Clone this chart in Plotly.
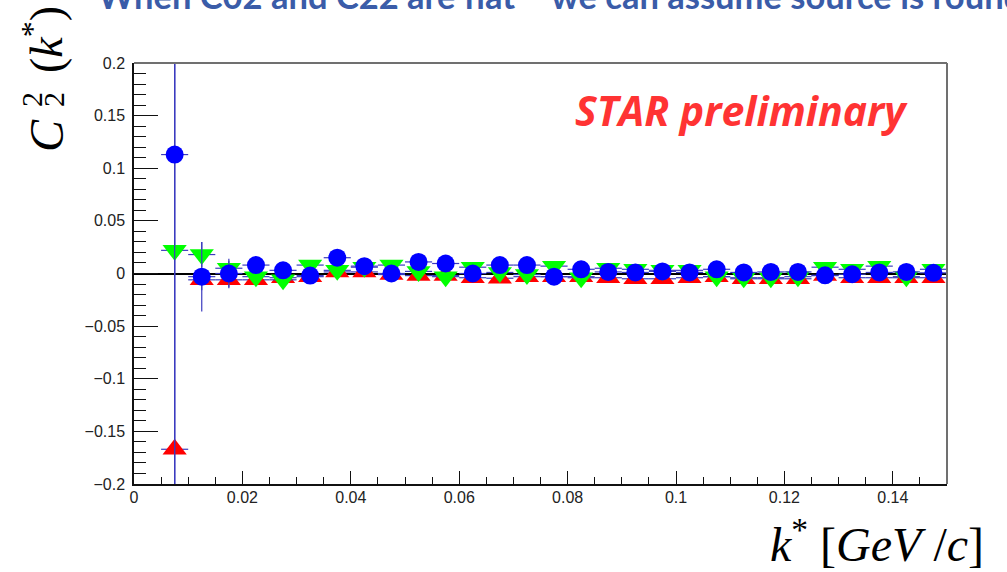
import plotly.graph_objects as go

# k* bin centres [GeV/c]
k_star = [0.0075, 0.0125, 0.0175, 0.0225, 0.0275, 0.0325, 0.0375, 0.0425, 0.0475, 0.0525,
          0.0575, 0.0625, 0.0675, 0.0725, 0.0775, 0.0825, 0.0875, 0.0925, 0.0975, 0.1025,
          0.1075, 0.1125, 0.1175, 0.1225, 0.1275, 0.1325, 0.1375, 0.1425, 0.1475]
k_halfwidth = 0.0025

# C_2^2(k*) for the three pair samples
c22_red = [-0.167, -0.006, -0.006, -0.006, -0.004, -0.003, 0.0015, 0.0015, -0.001, -0.002,
           -0.002, -0.004, -0.0045, -0.003, -0.003, -0.003, -0.004, -0.005, -0.005, -0.004,
           -0.003, -0.005, -0.005, -0.005, -0.002, -0.004, -0.004, -0.004, -0.004]
c22_red_err = [0.45, 0.010, 0.007, 0.005, 0.004, 0.004, 0.003, 0.003, 0.003, 0.003,
               0.003, 0.003, 0.003, 0.003, 0.003, 0.003, 0.003, 0.003, 0.003, 0.003,
               0.003, 0.003, 0.003, 0.003, 0.003, 0.003, 0.003, 0.003, 0.003]

c22_green = [0.022, 0.018, 0.005, -0.003, -0.006, 0.008, 0.003, 0.006, 0.008, 0.002,
             -0.003, 0.006, 0.001, -0.001, 0.007, -0.004, 0.005, 0.004, 0.003, 0.003,
             -0.003, -0.004, -0.004, -0.003, 0.006, 0.004, 0.007, -0.003, 0.004]
c22_green_err = [0.45, 0.012, 0.007, 0.005, 0.004, 0.004, 0.003, 0.003, 0.003, 0.003,
                 0.003, 0.003, 0.003, 0.003, 0.003, 0.003, 0.003, 0.003, 0.003, 0.003,
                 0.003, 0.003, 0.003, 0.003, 0.003, 0.003, 0.003, 0.003, 0.003]

c22_blue = [0.113, -0.003, 0.000, 0.008, 0.003, -0.002, 0.015, 0.007, 0.000, 0.011,
            0.0095, 0.000, 0.008, 0.008, -0.003, 0.004, 0.0015, 0.001, 0.002, 0.001,
            0.004, 0.001, 0.0015, 0.0015, -0.0017, -0.0007, 0.001, 0.0015, 0.0006]
c22_blue_err = [0.5, 0.033, 0.014, 0.006, 0.005, 0.004, 0.004, 0.004, 0.004, 0.004,
                0.004, 0.004, 0.004, 0.004, 0.004, 0.004, 0.004, 0.004, 0.004, 0.004,
                0.004, 0.004, 0.004, 0.004, 0.004, 0.004, 0.004, 0.004, 0.004]

x_range = [0.0, 0.15]
y_range = [-0.2, 0.2]

W, H = 1007, 572
PL, PR, PT, PB = 134, 947, 63, 484   # frame edges in pixels


def fx(p):
    return (p - PL) / (PR - PL)


def fy(p):
    return (PB - p) / (PB - PT)


ERR_COLOR = "#3b3bbf"

series = [
    (c22_red, c22_red_err, "#ff0000", "triangle-up", 21),
    (c22_green, c22_green_err, "#00ff00", "triangle-down", 21),
    (c22_blue, c22_blue_err, "#0000ff", "circle", 18),
]

fig = go.Figure()
for vals, errs, col, sym, sz in series:
    fig.add_trace(go.Scatter(
        x=k_star, y=vals, mode="markers",
        marker=dict(symbol=sym, size=sz, color=col, line=dict(width=0)),
        error_y=dict(type="data", array=errs, color=ERR_COLOR, thickness=1.2, width=0),
        error_x=dict(type="constant", value=k_halfwidth, color=ERR_COLOR, thickness=1.2, width=0),
        cliponaxis=True, showlegend=False,
    ))

tickfont = dict(family="Liberation Sans, Arial, sans-serif", size=16, color="#222222")

fig.update_xaxes(
    range=x_range, showgrid=False, zeroline=False,
    showline=True, linecolor="#111111", linewidth=1.5,
    ticks="inside", tickcolor="#111111", ticklen=13, tickwidth=1.3,
    dtick=0.02, tick0=0, tickfont=tickfont, ticklabelstandoff=-2,
    minor=dict(ticks="inside", dtick=0.005, tick0=0, ticklen=7, tickcolor="#111111", tickwidth=1.2),
)
fig.update_yaxes(
    range=y_range, showgrid=False,
    zeroline=True, zerolinecolor="#000000", zerolinewidth=1.5,
    showline=True, linecolor="#111111", linewidth=1.5,
    ticks="inside", tickcolor="#111111", ticklen=24, tickwidth=1.3,
    dtick=0.05, tick0=0, tickfont=tickfont, ticklabelstandoff=4,
    minor=dict(ticks="inside", dtick=0.01, tick0=0, ticklen=12, tickcolor="#111111", tickwidth=1.2),
)

# grey frame on the top and right sides
fig.add_shape(type="line", xref="paper", yref="paper", x0=0, x1=1, y0=1, y1=1,
              line=dict(color="#707070", width=2))
fig.add_shape(type="line", xref="paper", yref="paper", x0=1, x1=1, y0=0, y1=1,
              line=dict(color="#707070", width=2))

serif = "Liberation Serif, DejaVu Serif, serif"
ann = []

# heading line (runs off the top of the page)
ann.append(dict(text="<b>When C02 and C22 are flat – we can assume source is round</b>",
                x=fx(96), y=fy(-4), xanchor="left", yanchor="middle",
                font=dict(family="Lato, Open Sans, sans-serif", size=34.5, color="#3a5ca8")))

# STAR preliminary tag
ann.append(dict(text="<b><i>STAR preliminary</i></b>",
                x=fx(741), y=fy(110), xanchor="center", yanchor="middle",
                font=dict(family="Open Sans, Lato, sans-serif", size=41, color="#ff3333")))

# y-axis title: C_2^2(k*)
ann.append(dict(text="<i>C</i>", textangle=-90, x=fx(46), y=fy(136),
                xanchor="center", yanchor="middle",
                font=dict(family=serif, size=48, color="#000000")))
ann.append(dict(text="2", textangle=-90, x=fx(32), y=fy(100),
                xanchor="center", yanchor="middle",
                font=dict(family=serif, size=30, color="#000000")))
ann.append(dict(text="2", textangle=-90, x=fx(54), y=fy(100),
                xanchor="center", yanchor="middle",
                font=dict(family=serif, size=30, color="#000000")))
ann.append(dict(text="(<i>k</i><sup>*</sup>)", textangle=-90, x=fx(43), y=fy(40),
                xanchor="center", yanchor="middle",
                font=dict(family=serif, size=46, color="#000000")))

# x-axis title: k* [GeV/c]
ann.append(dict(text="<i>k</i><sup>*</sup> [<i>GeV</i> /<i>c</i>]",
                x=fx(877), y=fy(541), xanchor="center", yanchor="middle",
                font=dict(family=serif, size=48, color="#000000")))

for a in ann:
    a.update(xref="paper", yref="paper", showarrow=False)

fig.update_layout(
    width=W, height=H,
    margin=dict(l=PL, r=W - PR, t=PT, b=H - PB, pad=0),
    paper_bgcolor="#ffffff", plot_bgcolor="#ffffff",
    annotations=ann,
)

fig.write_html("out.html")
